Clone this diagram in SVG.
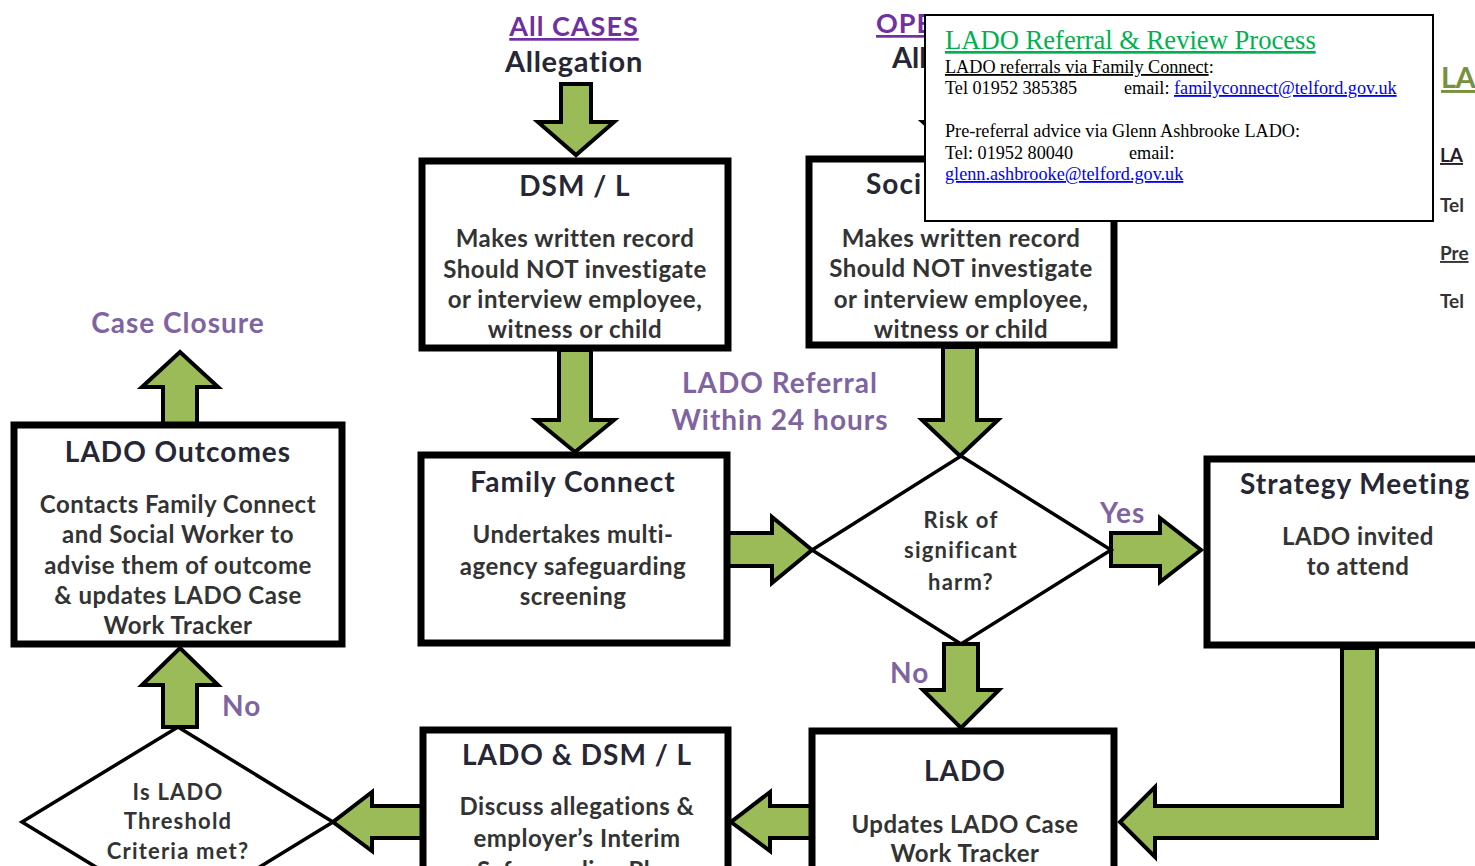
<svg xmlns="http://www.w3.org/2000/svg" width="1475" height="866" viewBox="0 0 1475 866">
<style>
.box{fill:#fff;stroke:#000;stroke-width:7}
.dia{fill:#fff;stroke:#000;stroke-width:3.5}
.arr{fill:#9BBB59;stroke:#000;stroke-width:4;stroke-linejoin:miter}
.t{font-family:Lato,"Open Sans",sans-serif;font-weight:700;font-size:28px;letter-spacing:1px;fill:#262634;text-anchor:middle}
.b{font-family:Lato,"Open Sans",sans-serif;font-weight:700;font-size:24px;letter-spacing:0.5px;fill:#333;text-anchor:middle}
.q{font-family:Lato,"Open Sans",sans-serif;font-weight:700;font-size:22px;letter-spacing:1.2px;fill:#333;text-anchor:middle}
.lab{font-family:Lato,"Open Sans",sans-serif;font-weight:700;font-size:28px;letter-spacing:1px;fill:#8064A2}
.hd{font-family:Lato,"Open Sans",sans-serif;font-weight:700;font-size:27px;letter-spacing:1px;fill:#7030A0;text-decoration:underline}
.s{font-family:"Liberation Serif","Times New Roman",serif;font-size:18.2px;fill:#000}
.lnk{fill:#0000FF;text-decoration:underline}
.edge{font-family:Lato,"Open Sans",sans-serif;font-weight:700;font-size:19px;fill:#333}
</style>
<defs>
<clipPath id="left-of-panel"><rect x="0" y="0" width="925" height="400"/></clipPath>
</defs>
<rect width="1475" height="866" fill="#fff"/>

<g id="hidden-panel">
<text x="1441" y="88" style="font-family:Lato,sans-serif;font-weight:700;font-size:29px;letter-spacing:-0.5px;fill:#76923C;text-decoration:underline">LA</text>
<text x="1440" y="162" class="edge" style="fill:#2a1a2a;text-decoration:underline">LA</text>
<text x="1440" y="212" class="edge">Tel</text>
<text x="1440" y="260" class="edge" style="text-decoration:underline">Pre</text>
<text x="1440" y="308" class="edge">Tel</text>
</g>

<g id="heading-all">
<text x="574" y="36" class="hd" text-anchor="middle">All CASES</text>
<text x="574" y="72" class="t" style="font-size:29px;letter-spacing:0.7px">Allegation</text>
</g>
<g id="heading-open" clip-path="url(#left-of-panel)">
<text x="876" y="33" class="hd">OPE</text>
<text x="892" y="68" class="t" style="font-size:29px;letter-spacing:0px;text-anchor:start">All</text>
</g>

<g id="connectors">
<polygon class="arr" points="561,84 591,84 591,122 614,122 576,155 538,122 561,122"/>
<polygon class="arr" points="946,84 976,84 976,122 999,122 961,157 923,122 946,122"/>
<polygon class="arr" points="559,350 591,350 591,420 614,420 575,452 536,420 559,420"/>
<polygon class="arr" points="943,347 977,347 977,420 998,420 960,456 922,420 943,420"/>
<polygon class="arr" points="727,533 772,533 772,517 812,550 772,583 772,566 727,566"/>
<polygon class="arr" points="1111,533 1160,533 1160,518 1201,550 1160,582 1160,566 1111,566"/>
<polygon class="arr" points="944,644 978,644 978,690 999,690 961,728 923,690 944,690"/>
<polygon class="arr" points="1342,648 1342,806 1155,806 1155,787 1120,822 1155,857 1155,838 1377,838 1377,648"/>
<polygon class="arr" points="812,806 770,806 770,792 731,822 770,851 770,838 812,838"/>
<polygon class="arr" points="423,806 372,806 372,792 333,822 372,851 372,838 423,838"/>
<polygon class="arr" points="163,727 163,685 142,685 180,648 218,685 197,685 197,727"/>
<polygon class="arr" points="163,425 163,387 142,387 180,352 218,387 197,387 197,425"/>
</g>

<g id="dsm">
<rect class="box" x="422" y="161" width="306" height="187"/>
<text x="575" y="196" class="t">DSM / L</text>
<text x="575" y="247" class="b">Makes written record</text>
<text x="575" y="278" class="b">Should NOT investigate</text>
<text x="575" y="308" class="b">or interview employee,</text>
<text x="575" y="338" class="b">witness or child</text>
</g>

<g id="social-worker">
<rect class="box" x="809" y="159" width="305" height="186"/>
<text x="866" y="194" class="t" style="text-anchor:start" clip-path="url(#left-of-panel)">Soci</text>
<text x="961" y="247" class="b">Makes written record</text>
<text x="961" y="277" class="b">Should NOT investigate</text>
<text x="961" y="308" class="b">or interview employee,</text>
<text x="961" y="338" class="b">witness or child</text>
</g>

<g id="lado-referral-label">
<text x="780" y="393" class="lab" text-anchor="middle">LADO Referral</text>
<text x="780" y="430" class="lab" text-anchor="middle">Within 24 hours</text>
</g>

<g id="family-connect">
<rect class="box" x="421" y="455" width="306" height="188"/>
<text x="573" y="492" class="t">Family Connect</text>
<text x="573" y="543" class="b">Undertakes multi-</text>
<text x="573" y="575" class="b">agency safeguarding</text>
<text x="573" y="605" class="b">screening</text>
</g>

<g id="risk">
<polygon class="dia" points="961,456 1111,550 961,644 812,550"/>
<text x="961" y="528" class="q">Risk of</text>
<text x="961" y="558" class="q">significant</text>
<text x="961" y="590" class="q">harm?</text>
<text x="1100" y="523" class="lab">Yes</text>
<text x="890" y="683" class="lab">No</text>
</g>

<g id="strategy">
<rect class="box" x="1207" y="459" width="330" height="186"/>
<text x="1240" y="494" class="t" style="text-anchor:start">Strategy Meeting</text>
<text x="1358" y="545" class="b">LADO invited</text>
<text x="1358" y="575" class="b">to attend</text>
</g>

<g id="lado">
<rect class="box" x="812" y="731" width="302" height="200"/>
<text x="965" y="781" class="t">LADO</text>
<text x="965" y="833" class="b">Updates LADO Case</text>
<text x="965" y="862" class="b">Work Tracker</text>
</g>

<g id="lado-dsm">
<rect class="box" x="423" y="730" width="305" height="200"/>
<text x="577" y="765" class="t">LADO &amp; DSM / L</text>
<text x="577" y="815" class="b">Discuss allegations &amp;</text>
<text x="577" y="847" class="b">employer’s Interim</text>
<text x="577" y="879" class="b">Safeguarding Plan</text>
</g>

<g id="threshold">
<polygon class="dia" points="178,727 333,822 178,917 22,822"/>
<text x="178" y="800" class="q">Is LADO</text>
<text x="178" y="829" class="q">Threshold</text>
<text x="178" y="859" class="q">Criteria met?</text>
<text x="222" y="716" class="lab">No</text>
</g>

<g id="outcomes">
<rect class="box" x="14" y="425" width="328" height="219"/>
<text x="178" y="462" class="t">LADO Outcomes</text>
<text x="178" y="513" class="b">Contacts Family Connect</text>
<text x="178" y="543" class="b">and Social Worker to</text>
<text x="178" y="574" class="b">advise them of outcome</text>
<text x="178" y="604" class="b">&amp; updates LADO Case</text>
<text x="178" y="634" class="b">Work Tracker</text>
</g>

<g id="case-closure">
<text x="178" y="333" class="lab" text-anchor="middle">Case Closure</text>
</g>

<g id="contact-panel">
<rect x="925" y="15" width="508" height="206" fill="#fff" stroke="#000" stroke-width="2"/>
<text x="945" y="49" style="font-family:'Liberation Serif','Times New Roman',serif;font-size:26.6px;fill:#00B050;text-decoration:underline">LADO Referral &amp; Review Process</text>
<text x="945" y="73" class="s"><tspan style="text-decoration:underline">LADO referrals via Family Connect</tspan>:</text>
<text x="945" y="94" class="s">Tel 01952 385385</text>
<text x="1124" y="94" class="s">email: <tspan class="lnk">familyconnect@telford.gov.uk</tspan></text>
<text x="945" y="137" class="s">Pre-referral advice via Glenn Ashbrooke LADO:</text>
<text x="945" y="159" class="s">Tel: 01952 80040</text>
<text x="1129" y="159" class="s">email:</text>
<text x="945" y="180" class="s lnk">glenn.ashbrooke@telford.gov.uk</text>
</g>
</svg>
